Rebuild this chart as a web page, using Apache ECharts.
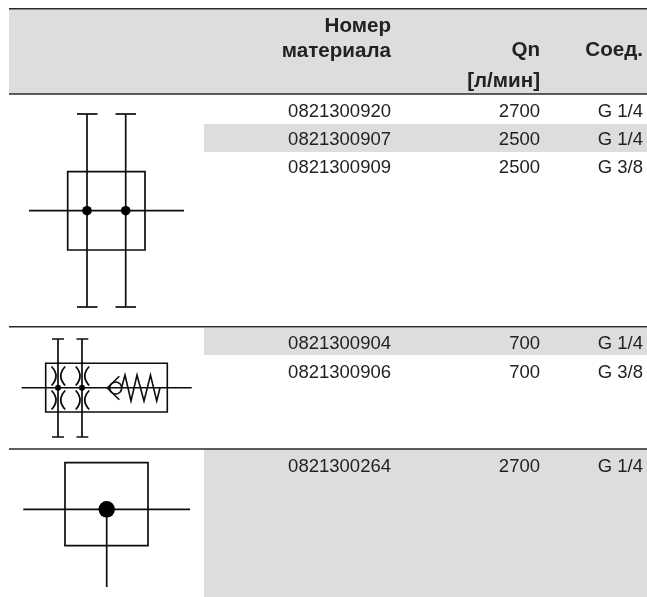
<!DOCTYPE html>
<html>
<head>
<meta charset="utf-8">
<style>html,body{margin:0;padding:0;background:#fff}#c{width:647px;height:597px}</style>
<script src="https://cdn.jsdelivr.net/npm/echarts@6/dist/echarts.min.js"></script>
</head>
<body>
<div id="c"></div>
<script>
// ---- table content ----
const headerMaterial = ['Номер', 'материала'];
const headerFlow = ['Qn', '[л/мин]'];
const headerPort = ['Соед.'];
const partNumbers = ['0821300920','0821300907','0821300909','0821300904','0821300906','0821300264'];
const flows = ['2700','2500','2500','700','700','2700'];
const ports = ['G 1/4','G 1/4','G 3/8','G 1/4','G 3/8','G 1/4'];

// ---- layout (axis units, axes span the page 1:1) ----
const rowY = [111.5, 139.5, 167.5, 343.5, 372.5, 466.5];
const colRight = [391, 540, 643];
const FS = 18.5, FSB = 20.6, BAND = '#dcddde', INK = '#0c0c0c', TXT = '#222', RULE = '#2a2a2a';
const bands = [[9,9,647,94],[204,124,647,152],[204,328,647,355],[204,449,647,597]];
const rules = [[9,647,8.7],[9,647,94],[9,647,326.7],[9,647,449]];

// schematic geometry
const L = (a,b,c,d,w) => ({t:'l',p:[[a,b],[c,d]],w:w||1.7});
const P = (p,w) => ({t:'l',p:p,w:w||1.6});
const R = (a,b,c,d,w) => ({t:'r',a,b,c,d,w:w||1.7});
const D = (x,y,r) => ({t:'c',x,y,r});
const O = (x,y,r) => ({t:'o',x,y,r});
const A = (x1,y1,cx,cy,x2,y2) => ({t:'q',x1,y1,cx,cy,x2,y2,w:1.7});
const sym1 = [
  L(87,114,87,307), L(125.7,114,125.7,307),
  L(77,114,97.5,114), L(115.5,114,136,114), L(77,307,97.5,307), L(115.5,307,136,307),
  R(67.7,171.7,145,250), L(29,210.7,184,210.7), D(87,210.7,4.8), D(125.7,210.7,4.8)
];
const arcs2 = [];
[[51.5,56],[65.2,60.8],[75.7,80],[89.2,84.8]].forEach(a => {
  const e = a[0], m = a[1] + (a[1]-a[0]);
  arcs2.push(A(e,366.5,m,376,e,385.5), A(e,390.5,m,400,e,409.5));
});
const sym2 = [
  L(58,339,58,437,1.7), L(82,339,82,437,1.7),
  L(52,339,64,339,1.5), L(76.5,339,88.3,339,1.5), L(52,437,64,437,1.5), L(76.5,437,88.3,437,1.5),
  R(45.7,363.3,167.3,412,1.6), L(21.7,387.8,191.7,387.8,1.5), D(58,387.8,3), D(82,387.8,3),
  ...arcs2,
  P([[119.3,376.3],[107.3,388],[119.3,399.7]]),
  O(115.7,388,6),
  P([[121.5,388],[125,375],[131,401],[137,375],[144,401],[150.5,375],[156.7,401],[160,388]])
];
const sym3 = [
  R(65,462.7,148,545.7), L(23.3,509.3,190,509.3), L(106.7,509.3,106.7,587), D(106.7,509.3,8.3)
];
const shapes = sym1.concat(sym2, sym3);

// text table built from named arrays
const cells = [];
headerMaterial.forEach((s,i) => cells.push({s, x:colRight[0], y:[26.5,51][i], b:1}));
headerFlow.forEach((s,i) => cells.push({s, x:colRight[1], y:[50.5,81.5][i], b:1}));
headerPort.forEach(s => cells.push({s, x:colRight[2], y:50.5, b:1}));
partNumbers.forEach((s,i) => {
  cells.push({s, x:colRight[0], y:rowY[i]});
  cells.push({s:flows[i], x:colRight[1], y:rowY[i]});
  cells.push({s:ports[i], x:colRight[2], y:rowY[i]});
});

const chart = echarts.init(document.getElementById('c'), null, {renderer:'canvas'});
chart.setOption({
  animation:false,
  backgroundColor:'#fff',
  grid:{left:0,right:0,top:0,bottom:0},
  xAxis:{type:'value',min:0,max:647,show:false},
  yAxis:{type:'value',min:0,max:597,inverse:true,show:false},
  series:[
    {type:'custom',clip:false,z:1,silent:true,data:bands,
      renderItem:(p,api)=>{
        const a=api.coord([api.value(0),api.value(1)]), b=api.coord([api.value(2),api.value(3)]);
        return {type:'rect',shape:{x:a[0],y:a[1],width:b[0]-a[0],height:b[1]-a[1]},style:{fill:BAND}};
      }},
    {type:'custom',clip:false,z:2,silent:true,data:rules,
      renderItem:(p,api)=>{
        const a=api.coord([api.value(0),api.value(2)]), b=api.coord([api.value(1),api.value(2)]);
        return {type:'line',shape:{x1:a[0],y1:a[1],x2:b[0],y2:b[1]},style:{stroke:RULE,lineWidth:1.5}};
      }},
    {type:'custom',clip:false,z:3,silent:true,data:shapes.map((s,i)=>[i]),
      renderItem:(p,api)=>{
        const s=shapes[p.dataIndex], c=v=>api.coord(v);
        const st={stroke:INK,fill:'none',lineWidth:s.w||1.6};
        if(s.t==='l') return {type:'polyline',shape:{points:s.p.map(c)},style:st};
        if(s.t==='r'){const a=c([s.a,s.b]),b=c([s.c,s.d]);
          return {type:'rect',shape:{x:a[0],y:a[1],width:b[0]-a[0],height:b[1]-a[1]},style:st};}
        if(s.t==='c'){const o=c([s.x,s.y]);
          return {type:'circle',shape:{cx:o[0],cy:o[1],r:s.r},style:{fill:'#000'}};}
        if(s.t==='o'){const o=c([s.x,s.y]);
          return {type:'circle',shape:{cx:o[0],cy:o[1],r:s.r},style:st};}
        const a=c([s.x1,s.y1]),m=c([s.cx,s.cy]),b=c([s.x2,s.y2]);
        return {type:'bezierCurve',shape:{x1:a[0],y1:a[1],cpx1:m[0],cpy1:m[1],x2:b[0],y2:b[1]},style:st};
      }},
    {type:'custom',clip:false,z:4,silent:true,data:cells.map((s,i)=>[i]),
      renderItem:(p,api)=>{
        const s=cells[p.dataIndex], o=api.coord([s.x,s.y]);
        return {type:'text',x:o[0],y:o[1],style:{text:s.s,align:'right',verticalAlign:'middle',fill:TXT,
          font:(s.b?'bold '+FSB:FS)+'px "Liberation Sans", Arial, sans-serif'}};
      }}
  ]
});
</script>
</body>
</html>
